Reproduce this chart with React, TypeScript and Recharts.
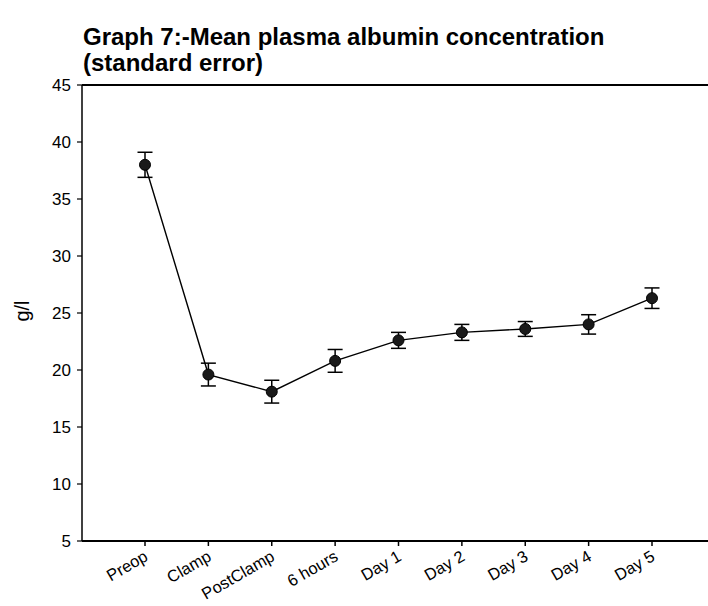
import { LineChart, Line, XAxis, YAxis, ErrorBar, ReferenceLine } from 'recharts';

const timepoints = ['Preop', 'Clamp', 'PostClamp', '6 hours', 'Day 1', 'Day 2', 'Day 3', 'Day 4', 'Day 5'];
const meanAlbumin = [38.0, 19.6, 18.1, 20.8, 22.6, 23.3, 23.6, 24.0, 26.3];
const stdError = [1.1, 1.0, 1.0, 1.0, 0.7, 0.7, 0.65, 0.85, 0.9];
const yTicks = [5, 10, 15, 20, 25, 30, 35, 40, 45];

const data = timepoints.map((name, i) => ({ name, value: meanAlbumin[i], se: stdError[i] }));

const FONT = '"Liberation Sans", Arial, sans-serif';

// x labels sit at -30deg, right end just under the tick
function RotatedTick(props: any) {
    const { x, y, payload } = props;
    return (
        <g transform={`translate(${x - 1},${y + 3})`}>
            <text x={0} y={0} dy={10} textAnchor="end" transform="rotate(-30)" fontSize={16.5} fontFamily={FONT} fill="#000">
                {payload.value}
            </text>
        </g>
    );
}

export default function App() {
    return (
        <div style={{ position: 'absolute', left: 0, top: 0, width: 708, height: 606, overflow: 'hidden', background: '#fff' }}>
            <div style={{ position: 'absolute', left: 83, top: 24, fontFamily: FONT, fontWeight: 'bold', fontSize: 24, lineHeight: '26px', color: '#000', whiteSpace: 'nowrap' }}>
                Graph 7:-Mean plasma albumin concentration<br />(standard error)
            </div>
            <div style={{ position: 'absolute', left: 22, top: 311, transform: 'translate(-50%, -50%) rotate(-90deg)', fontFamily: FONT, fontSize: 20, color: '#000' }}>
                g/l
            </div>
            <LineChart width={720} height={606} data={data} margin={{ top: 85, right: 5, bottom: 5, left: 0 }}>
                <XAxis
                    dataKey="name"
                    interval={0}
                    padding={{ left: 63, right: 63 }}
                    tickSize={5}
                    tick={<RotatedTick />}
                    height={60}
                    axisLine={{ stroke: '#000', strokeWidth: 2 }}
                    tickLine={{ stroke: '#000', strokeWidth: 1.5 }}
                />
                <YAxis
                    domain={[5, 45]}
                    ticks={yTicks}
                    width={82}
                    tickSize={5}
                    tickMargin={6}
                    tick={{ fontSize: 17, fontFamily: FONT, fill: '#000' }}
                    axisLine={{ stroke: '#000', strokeWidth: 1.5 }}
                    tickLine={{ stroke: '#000', strokeWidth: 1.2 }}
                />
                <ReferenceLine y={45} stroke="#000" strokeWidth={2} />
                <Line
                    type="linear"
                    dataKey="value"
                    stroke="#000"
                    strokeWidth={1.4}
                    dot={{ r: 5.5, fill: '#1a1a1a', stroke: '#000', strokeWidth: 1 }}
                    isAnimationActive={false}
                >
                    <ErrorBar dataKey="se" width={7.5} stroke="#000" strokeWidth={1.5} direction="y" />
                </Line>
            </LineChart>
        </div>
    );
}
